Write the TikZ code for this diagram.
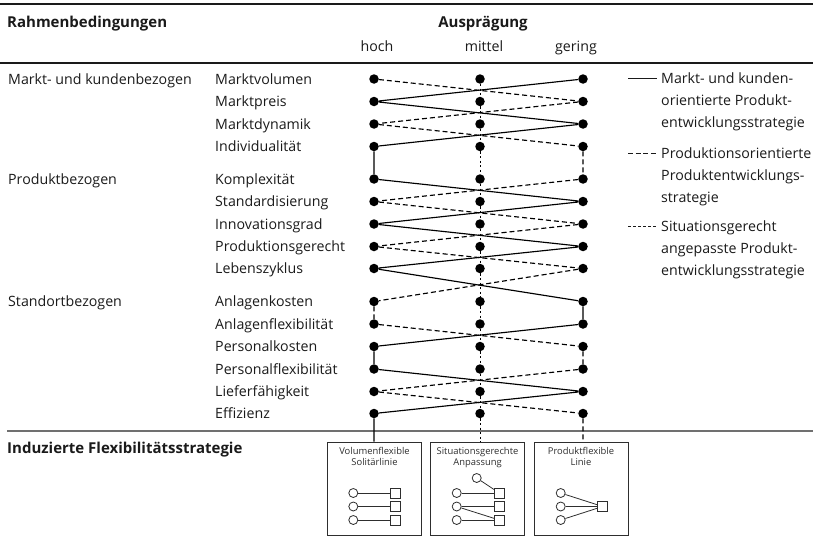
\documentclass[tikz,border=0pt]{standalone}
\usepackage{fontspec}
\setmainfont{Open Sans}
\definecolor{ink}{HTML}{1A1A1A}
\definecolor{rulegray}{HTML}{707070}
\definecolor{boxink}{HTML}{2E2E2E}
\begin{document}
\begin{tikzpicture}[x=1pt,y=-1pt,
  txt/.style={font=\fontsize{14.2}{22}\selectfont, inner sep=0pt, text=ink},
  head/.style={font=\fontsize{15}{22}\selectfont\bfseries, inner sep=0pt, text=ink},
  boxtxt/.style={font=\fontsize{9.4}{11}\selectfont, inner sep=0pt, text=boxink, align=center},
  dot/.style={circle, fill=black, minimum size=9.5pt, inner sep=0pt},
  marktline/.style={line width=1.15pt, black},
  prodline/.style={line width=1.15pt, black, dash pattern=on 5pt off 3pt},
  sitline/.style={line width=1pt, black, dash pattern=on 2.2pt off 2.4pt},
  stratbox/.style={draw=boxink, line width=1pt, minimum width=94pt, minimum height=93pt, inner sep=0pt},
  src/.style={circle, draw=boxink, line width=0.8pt, minimum size=9pt, inner sep=0pt},
  sink/.style={rectangle, draw=boxink, line width=0.8pt, minimum size=10pt, inner sep=0pt},
  wire/.style={draw=boxink, line width=0.8pt}]
\useasboundingbox (0,0) rectangle (813,543);

% horizontal rules
\draw[line width=1.3pt, ink] (0,4) -- (813,4);
\draw[line width=1.3pt, ink] (0,63) -- (813,63);
\draw[line width=2pt, rulegray] (7,431) -- (813,431);

% header
\node[head, anchor=base west] (hdrRahmen) at (7,28) {Rahmenbedingungen};
\node[head, anchor=base] (hdrAus) at (483,28) {Ausprägung};
\node[txt, anchor=base] (hdrHoch) at (377,52) {hoch};
\node[txt, anchor=base] (hdrMittel) at (484,52) {mittel};
\node[txt, anchor=base] (hdrGering) at (576,52) {gering};

% groups
\node[txt, anchor=base west] (grpMarkt) at (8,84) {Markt- und kundenbezogen};
\node[txt, anchor=base west] (grpProd) at (8,184) {Produktbezogen};
\node[txt, anchor=base west] (grpStand) at (8,306.5) {Standortbezogen};
\node[head, anchor=base west] (grpInd) at (7,453) {Induzierte Flexibilitätsstrategie};

% criteria rows with dots for hoch / mittel / gering
\foreach \yy/\lab [count=\i] in {
  79/Marktvolumen, 101.5/Marktpreis, 124/Marktdynamik, 146.5/Individualität,
  179/Komplexität, 201.5/Standardisierung, 224/Innovationsgrad,
  246.5/Produktionsgerecht, 268.5/Lebenszyklus,
  301.5/Anlagenkosten, 324/Anlagenflexibilität, 346.5/Personalkosten,
  369/Personalflexibilität, 391.5/Lieferfähigkeit, 413.5/Effizienz} {
  \node[txt, anchor=base west] (lab\i) at (215,\yy+5) {\lab};
  \node[dot] (h\i) at (374,\yy) {};
  \node[dot] (m\i) at (480,\yy) {};
  \node[dot] (g\i) at (583,\yy) {};
}

% strategy boxes
\node[stratbox] (b1) at (374.5,488.5) {};
\node[stratbox] (b2) at (477.5,488.5) {};
\node[stratbox] (b3) at (581,488.5) {};
\node[boxtxt, anchor=base] (t1) at (374.5,465) {Volumenflexible\\Solitärlinie};
\node[boxtxt, anchor=base] (t2) at (477.5,465) {Situationsgerechte\\Anpassung};
\node[boxtxt, anchor=base] (t3) at (581,465) {Produktflexible\\Linie};

% strategy profiles
\draw[marktline] (g1) -- (h2) -- (g3) -- (h4) -- (h5) -- (g6) -- (h7) -- (g8)
  -- (h9) -- (g10) -- (g11) -- (h12) -- (h13) -- (g14) -- (h15) -- (h15 |- b1.north);
\draw[prodline] (h1) -- (g2) -- (h3) -- (g4) -- (g5) -- (h6) -- (g7) -- (h8)
  -- (g9) -- (h10) -- (h11) -- (g12) -- (g13) -- (h14) -- (g15) -- (g15 |- b3.north);
\draw[sitline] (m1) -- (m2) -- (m3) -- (m4) -- (m5) -- (m6) -- (m7) -- (m8)
  -- (m9) -- (m10) -- (m11) -- (m12) -- (m13) -- (m14) -- (m15) -- (m15 |- b2.north);

% box 1: volume-flexible single lines
\foreach \r/\yy in {1/493, 2/506.5, 3/520} {
  \node[src] (a\r) at (353.3,\yy) {};
  \node[sink] (p\r) at (395,\yy) {};
  \draw[wire] (a\r) -- (p\r);
}
% box 2: situational adaptation
\node[src] (c0) at (476.7,478) {};
\foreach \r/\yy in {1/493, 2/506.5, 3/520} {
  \node[src] (c\r) at (456.7,\yy) {};
  \node[sink] (q\r) at (499.3,\yy) {};
}
\draw[wire] (c0) -- (q1);
\draw[wire] (c1) -- (q1);
\draw[wire] (c2) -- (q2);
\draw[wire] (c2) -- (q3);
\draw[wire] (c3) -- (q3);
% box 3: product-flexible line
\node[sink] (s0) at (602.7,506.5) {};
\foreach \r/\yy in {1/493, 2/506.5, 3/520} {
  \node[src] (d\r) at (560.7,\yy) {};
  \draw[wire] (d\r) -- (s0);
}

% legend
\coordinate (l1a) at (628,78);  \coordinate (l1b) at (657,78);
\coordinate (l2a) at (628,153); \coordinate (l2b) at (657,153);
\coordinate (l3a) at (628,226); \coordinate (l3b) at (657,226);
\draw[line width=1pt, ink] (l1a) -- (l1b);
\draw[line width=1pt, ink, dash pattern=on 5pt off 2.6pt] (l2a) -- (l2b);
\draw[line width=1pt, ink, dash pattern=on 3pt off 2pt] (l3a) -- (l3b);
\node[txt, anchor=base west] (leg1) at (661,83) {Markt- und kunden-};
\node[txt, anchor=base west] (leg1b) at (661,105) {orientierte Produkt-};
\node[txt, anchor=base west] (leg1c) at (661,127) {entwicklungsstrategie};
\node[txt, anchor=base west] (leg2) at (661,158) {Produktionsorientierte};
\node[txt, anchor=base west] (leg2b) at (661,180) {Produktentwicklungs-};
\node[txt, anchor=base west] (leg2c) at (661,202) {strategie};
\node[txt, anchor=base west] (leg3) at (661,231) {Situationsgerecht};
\node[txt, anchor=base west] (leg3b) at (661,253) {angepasste Produkt-};
\node[txt, anchor=base west] (leg3c) at (661,275) {entwicklungsstrategie};
\end{tikzpicture}
\end{document}
